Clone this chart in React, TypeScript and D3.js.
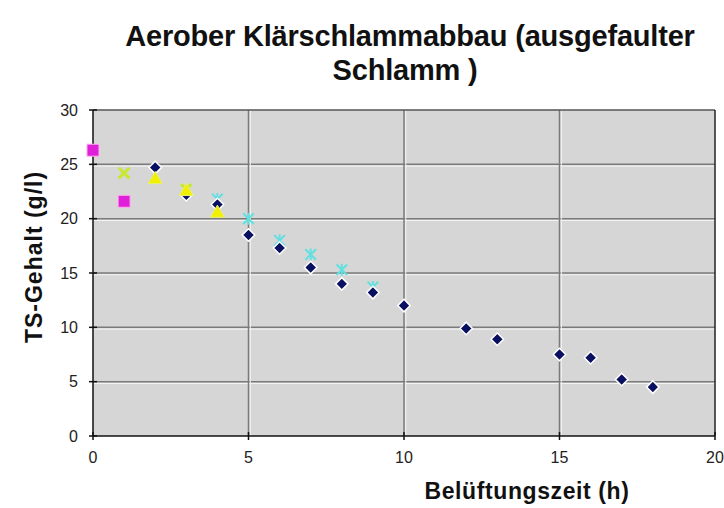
import React from "react";
import * as d3 from "d3";

const navyX = [2, 3, 4, 5, 6, 7, 8, 9, 10, 12, 13, 15, 16, 17, 18];
const navyY = [24.7, 22.2, 21.3, 18.5, 17.3, 15.5, 14.0, 13.2, 12.0, 9.9, 8.9, 7.5, 7.2, 5.2, 4.5];
const magentaX = [0, 1];
const magentaY = [26.3, 21.6];
const yellowX = [2, 3, 4];
const yellowY = [23.6, 22.5, 20.5];
const greenX = [1, 3];
const greenY = [24.2, 22.7];
const cyanX = [4, 5, 6, 7, 8, 9];
const cyanY = [21.8, 20.0, 18.0, 16.7, 15.3, 13.7];
const xTicks = [0, 5, 10, 15, 20];
const yTicks = [0, 5, 10, 15, 20, 25, 30];

const W = 724, H = 508;
const L = 93, R = 715, T = 110, B = 436;

export default function App() {
  const x = d3.scaleLinear().domain([0, 20]).range([L, R]);
  const y = d3.scaleLinear().domain([0, 30]).range([B, T]);
  const font = "'Liberation Sans', Arial, sans-serif";
  const diamond = d3.symbol().type(d3.symbolDiamond2).size(100)() as string;
  const tri = d3.symbol().type(d3.symbolTriangle).size(85)() as string;
  const cross = d3.symbol().type(d3.symbolTimes).size(75)() as string;

  return (
    <svg width={W} height={H} style={{ position: "absolute", left: 0, top: 0, background: "#fff" }} fontFamily={font}>
      <rect x={L} y={T} width={R - L} height={B - T} fill="#d6d6d6" />
      {yTicks.filter(v => v > 0 && v < 30).map(v => (
        <g key={"gy" + v}>
          <line x1={L} x2={R} y1={y(v)} y2={y(v)} stroke="#7a7a7a" strokeWidth={1.5} />
          <line x1={L} x2={R} y1={y(v) + 1.8} y2={y(v) + 1.8} stroke="#f4f4f4" strokeWidth={1} />
        </g>
      ))}
      {xTicks.filter(v => v > 0 && v < 20).map(v => (
        <g key={"gx" + v}>
          <line x1={x(v)} x2={x(v)} y1={T} y2={B} stroke="#7a7a7a" strokeWidth={1.5} />
          <line x1={x(v) + 1.8} x2={x(v) + 1.8} y1={T} y2={B} stroke="#f4f4f4" strokeWidth={1} />
        </g>
      ))}
      <line x1={L} x2={R} y1={T} y2={T} stroke="#555" strokeWidth={1.5} />
      <line x1={R} x2={R} y1={T} y2={B} stroke="#222" strokeWidth={1.5} />
      <line x1={L} x2={L} y1={T} y2={B} stroke="#111" strokeWidth={1.5} />
      <line x1={L} x2={R} y1={B} y2={B} stroke="#111" strokeWidth={1.5} />
      {yTicks.map(v => (
        <g key={"ty" + v}>
          <line x1={L - 4} x2={L + 4} y1={y(v)} y2={y(v)} stroke="#111" strokeWidth={1.5} />
          <text x={L - 15} y={y(v)} dy="0.35em" textAnchor="end" fontSize={16} fill="#222">{v}</text>
        </g>
      ))}
      {xTicks.map(v => (
        <g key={"tx" + v}>
          <line x1={x(v)} x2={x(v)} y1={B - 4} y2={B + 4} stroke="#111" strokeWidth={1.5} />
          <text x={x(v)} y={B + 27} textAnchor="middle" fontSize={16} fill="#222">{v}</text>
        </g>
      ))}

      {magentaX.map((v, i) => (
        <rect key={"m" + i} x={x(v) - 6} y={y(magentaY[i]) - 6} width={12} height={12} fill="#e020d8" stroke="#ffb0f0" strokeWidth={1} />
      ))}
      {greenX.map((v, i) => (
        <path key={"g" + i} d={cross} transform={`translate(${x(v)},${y(greenY[i])})`} stroke="#c8e830" strokeWidth={3} fill="none" />
      ))}
      {cyanX.map((v, i) => (
        <g key={"c" + i} transform={`translate(${x(v)},${y(cyanY[i])})`} stroke="#60e0e0" strokeWidth={2}>
          <path d={cross} />
          <line x1={0} x2={0} y1={-6} y2={6} />
        </g>
      ))}
      {navyX.map((v, i) => (
        <path key={"n" + i} d={diamond} transform={`translate(${x(v)},${y(navyY[i])})`} fill="#0a1060" stroke="#ffffff" strokeWidth={1.5} />
      ))}
      {yellowX.map((v, i) => (
        <path key={"y" + i} d={tri} transform={`translate(${x(v)},${y(yellowY[i])})`} fill="#f0f000" stroke="#e8f070" strokeWidth={1} />
      ))}

      <text x={410} y={46} textAnchor="middle" fontSize={29} fontWeight="bold" letterSpacing={-0.2} fill="#111">Aerober Klärschlammabbau (ausgefaulter</text>
      <text x={405} y={80} textAnchor="middle" fontSize={29} fontWeight="bold" letterSpacing={-0.2} fill="#111">Schlamm )</text>
      <text transform={`translate(42,257) rotate(-90)`} textAnchor="middle" fontSize={23} fontWeight="bold" letterSpacing={1} fill="#111">TS-Gehalt (g/l)</text>
      <text x={527} y={499} textAnchor="middle" fontSize={23} fontWeight="bold" letterSpacing={0.6} fill="#111">Belüftungszeit (h)</text>
    </svg>
  );
}
